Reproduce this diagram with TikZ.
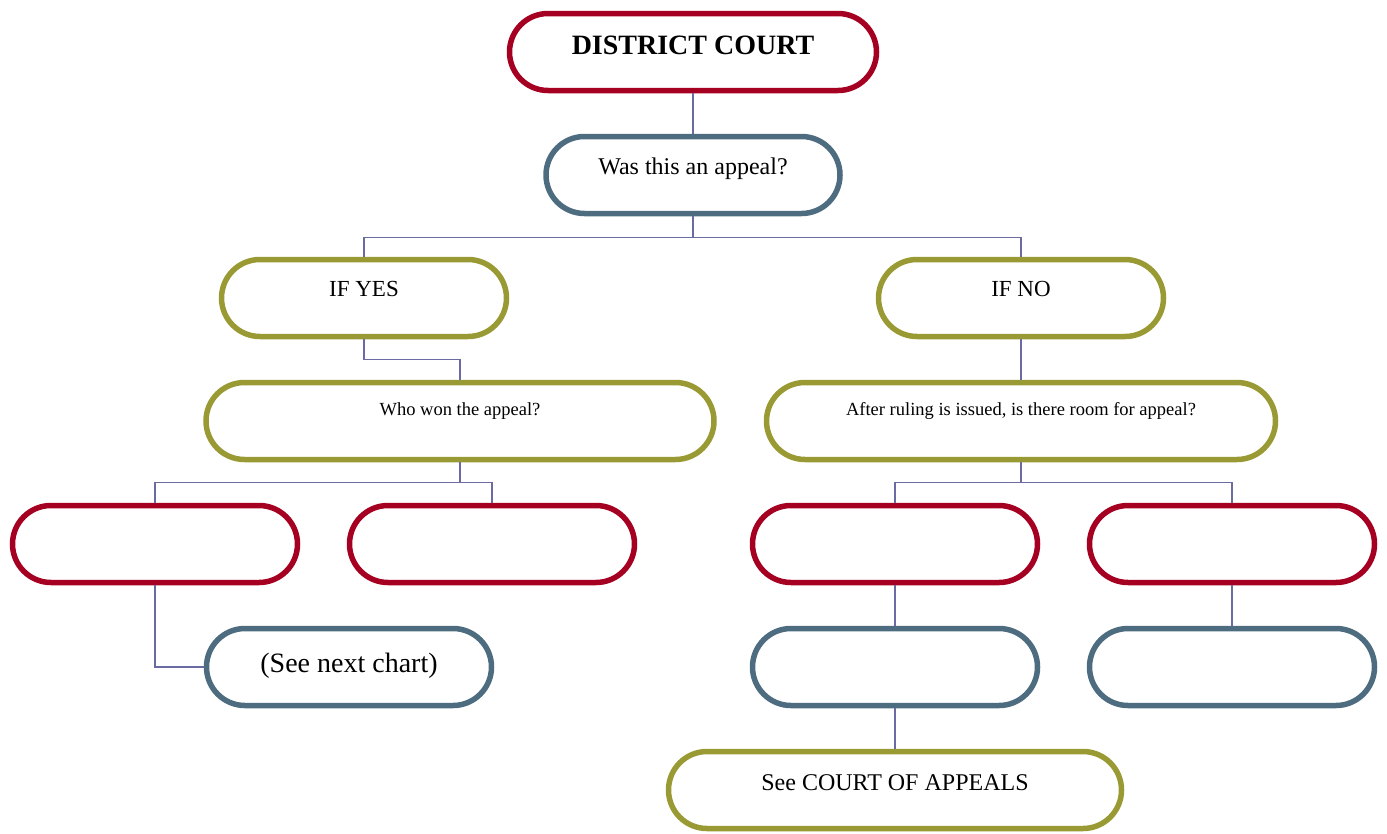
\documentclass[tikz,border=0pt]{standalone}
\usepackage{fontspec}
\setmainfont{Liberation Serif}
\usepackage{xcolor}
\usepackage{tikz}
\definecolor{courtred}{HTML}{A50021}
\definecolor{slateblue}{HTML}{4D6C80}
\definecolor{olivegreen}{HTML}{9A9A35}
\definecolor{linkpurple}{HTML}{6B6BA3}

\begin{document}
\begin{tikzpicture}[x=1pt,y=-1pt,%
% common options for the rounded boxes:
pill/.style = {draw, line width=5.5pt, rounded corners=38.5pt, fill=white,
            minimum width=285pt, minimum height=77pt, inner sep=0pt, align=center},
redpill/.style = {pill, draw=courtred},
bluepill/.style = {pill, draw=slateblue},
olivepill/.style = {pill, draw=olivegreen},
% common options for the connectors:
link/.style = {draw=linkpurple, line width=1.5pt}]
\useasboundingbox (0,0) rectangle (1387,833);
\node[redpill,minimum width=367pt,font=\fontsize{28}{32}\selectfont\bfseries,text height=18.5pt,text depth=14pt] (dc) at (693,52) {DISTRICT COURT};
\node[bluepill,minimum width=294pt,font=\fontsize{24}{28}\selectfont,text height=16pt,text depth=18pt] (appeal) at (693,175) {Was this an appeal?};
\node[olivepill,font=\fontsize{23}{27}\selectfont,text height=15pt,text depth=18pt] (yes) at (364,298) {IF YES};
\node[olivepill,font=\fontsize{23}{27}\selectfont,text height=15pt,text depth=18pt] (no) at (1021,298) {IF NO};
\node[olivepill,minimum width=508pt,font=\fontsize{18.5}{22}\selectfont,text height=12pt,text depth=24pt] (won) at (460,421) {Who won the appeal?};
\node[olivepill,minimum width=509pt,font=\fontsize{18.5}{22}\selectfont,text height=12pt,text depth=24pt] (room) at (1021,421) {After ruling is issued, is there room for appeal?};
\node[redpill] (r1) at (155,544) {};
\node[redpill] (r2) at (492,544) {};
\node[redpill] (r3) at (895,544) {};
\node[redpill] (r4) at (1232,544) {};
\node[bluepill,font=\fontsize{28}{32}\selectfont,text height=18.5pt,text depth=8pt] (next) at (349,667) {(See next chart)};
\node[bluepill] (b2) at (895,667) {};
\node[bluepill] (b3) at (1232,667) {};
\node[olivepill,minimum width=453pt,font=\fontsize{24}{28}\selectfont,text height=16pt,text depth=16pt] (coa) at (895,790) {See COURT OF APPEALS};
\draw[link] (dc.south) -- (appeal.north);
\draw[link] (appeal.south) -- ++(0,21) coordinate (abus) -| (yes.north);
\draw[link] (abus) -| (no.north);
\draw[link] (yes.south) -- ++(0,20) -| (won.north);
\draw[link] (no.south) -- (room.north);
\draw[link] (won.south) -- ++(0,20) coordinate (wbus) -| (r1.north);
\draw[link] (wbus) -| (r2.north);
\draw[link] (room.south) -- ++(0,20) coordinate (rbus) -| (r3.north);
\draw[link] (rbus) -| (r4.north);
\draw[link] (r1.south) |- (next.west);
\draw[link] (r3.south) -- (b2.north);
\draw[link] (r4.south) -- (b3.north);
\draw[link] (b2.south) -- (coa.north);
\end{tikzpicture}
\end{document}
